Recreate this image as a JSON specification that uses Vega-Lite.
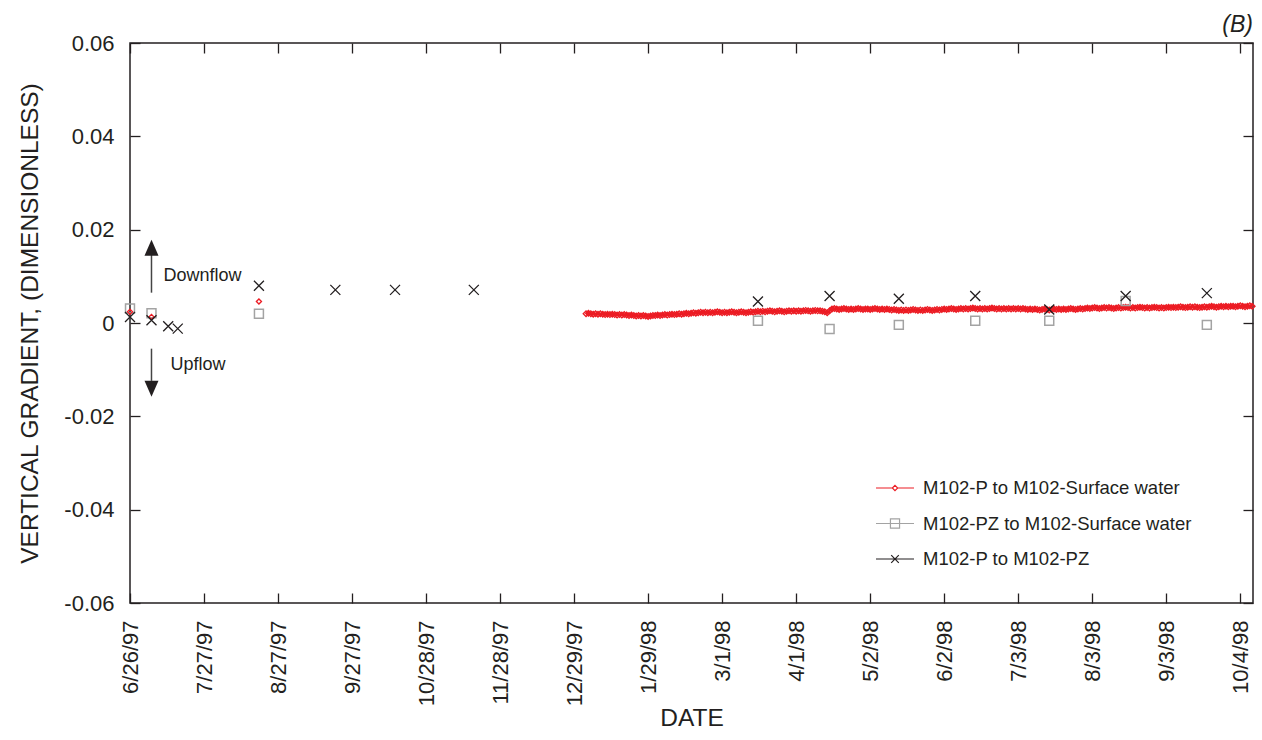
{
  "$schema": "https://vega.github.io/schema/vega-lite/v6.json",
  "width": 1123,
  "height": 560,
  "autosize": {"type": "none"},
  "padding": {"left": 130, "top": 43, "right": 9, "bottom": 137},
  "background": "white",
  "title": {"text": "(B)", "anchor": "end", "frame": "group", "fontStyle": "italic", "fontWeight": "normal", "fontSize": 23, "offset": -5, "color": "#231f20", "font": "Liberation Sans"},
  "config": {
    "font": "Liberation Sans",
    "view": {"stroke": "#231f20", "strokeWidth": 1.5},
    "axis": {"domain": false, "grid": false, "labelFont": "Liberation Sans", "labelFontSize": 22, "labelColor": "#231f20", "tickColor": "#231f20", "tickWidth": 1.3, "tickSize": -10, "titleFont": "Liberation Sans", "titleFontSize": 24.5, "titleFontWeight": "normal", "titleColor": "#231f20"}
  },
  "datasets": {
    "pts": [
      {"d": "1997/06/26", "s": "P-SW", "v": 0.0024},
      {"d": "1997/07/05", "s": "P-SW", "v": 0.0013},
      {"d": "1997/08/19", "s": "P-SW", "v": 0.0046},
      {"d": "1997/06/26", "s": "PZ-SW", "v": 0.0031},
      {"d": "1997/07/05", "s": "PZ-SW", "v": 0.0021},
      {"d": "1997/08/19", "s": "PZ-SW", "v": 0.0020},
      {"d": "1998/03/16", "s": "PZ-SW", "v": 0.0005},
      {"d": "1998/04/15", "s": "PZ-SW", "v": -0.0013},
      {"d": "1998/05/14", "s": "PZ-SW", "v": -0.0004},
      {"d": "1998/06/15", "s": "PZ-SW", "v": 0.0005},
      {"d": "1998/07/16", "s": "PZ-SW", "v": 0.0005},
      {"d": "1998/08/17", "s": "PZ-SW", "v": 0.0047},
      {"d": "1998/09/20", "s": "PZ-SW", "v": -0.0004},
      {"d": "1997/06/26", "s": "P-PZ", "v": 0.0013},
      {"d": "1997/07/05", "s": "P-PZ", "v": 0.0006},
      {"d": "1997/07/12", "s": "P-PZ", "v": -0.0007},
      {"d": "1997/07/16", "s": "P-PZ", "v": -0.0012},
      {"d": "1997/08/19", "s": "P-PZ", "v": 0.0080},
      {"d": "1997/09/20", "s": "P-PZ", "v": 0.0071},
      {"d": "1997/10/15", "s": "P-PZ", "v": 0.0071},
      {"d": "1997/11/17", "s": "P-PZ", "v": 0.0071},
      {"d": "1998/03/16", "s": "P-PZ", "v": 0.0046},
      {"d": "1998/04/15", "s": "P-PZ", "v": 0.0058},
      {"d": "1998/05/14", "s": "P-PZ", "v": 0.0052},
      {"d": "1998/06/15", "s": "P-PZ", "v": 0.0058},
      {"d": "1998/07/16", "s": "P-PZ", "v": 0.0029},
      {"d": "1998/08/17", "s": "P-PZ", "v": 0.0058},
      {"d": "1998/09/20", "s": "P-PZ", "v": 0.0064}
    ],
    "red": [
      {"d":"1998/01/03","v":0.0020},{"d":"1998/01/04","v":0.0021},{"d":"1998/01/05","v":0.0020},{"d":"1998/01/06","v":0.0019},{"d":"1998/01/07","v":0.0020},{"d":"1998/01/08","v":0.0019},{"d":"1998/01/09","v":0.0020},{"d":"1998/01/10","v":0.0019},{"d":"1998/01/11","v":0.0018},{"d":"1998/01/12","v":0.0019},{"d":"1998/01/13","v":0.0018},{"d":"1998/01/14","v":0.0019},{"d":"1998/01/15","v":0.0018},{"d":"1998/01/16","v":0.0017},{"d":"1998/01/17","v":0.0018},{"d":"1998/01/18","v":0.0017},{"d":"1998/01/19","v":0.0018},{"d":"1998/01/20","v":0.0017},{"d":"1998/01/21","v":0.0016},{"d":"1998/01/22","v":0.0017},{"d":"1998/01/23","v":0.0016},{"d":"1998/01/24","v":0.0015},{"d":"1998/01/25","v":0.0016},{"d":"1998/01/26","v":0.0015},{"d":"1998/01/27","v":0.0016},{"d":"1998/01/28","v":0.0015},{"d":"1998/01/29","v":0.0014},{"d":"1998/01/30","v":0.0015},{"d":"1998/01/31","v":0.0016},
      {"d":"1998/02/01","v":0.0016},{"d":"1998/02/02","v":0.0017},{"d":"1998/02/03","v":0.0016},{"d":"1998/02/04","v":0.0017},{"d":"1998/02/05","v":0.0018},{"d":"1998/02/06","v":0.0017},{"d":"1998/02/07","v":0.0018},{"d":"1998/02/08","v":0.0019},{"d":"1998/02/09","v":0.0018},{"d":"1998/02/10","v":0.0019},{"d":"1998/02/11","v":0.0020},{"d":"1998/02/12","v":0.0019},{"d":"1998/02/13","v":0.0020},{"d":"1998/02/14","v":0.0021},{"d":"1998/02/15","v":0.0020},{"d":"1998/02/16","v":0.0021},{"d":"1998/02/17","v":0.0022},{"d":"1998/02/18","v":0.0021},{"d":"1998/02/19","v":0.0022},{"d":"1998/02/20","v":0.0023},{"d":"1998/02/21","v":0.0022},{"d":"1998/02/22","v":0.0023},{"d":"1998/02/23","v":0.0022},{"d":"1998/02/24","v":0.0023},{"d":"1998/02/25","v":0.0022},{"d":"1998/02/26","v":0.0023},{"d":"1998/02/27","v":0.0024},{"d":"1998/02/28","v":0.0023},
      {"d":"1998/03/01","v":0.0022},{"d":"1998/03/02","v":0.0023},{"d":"1998/03/03","v":0.0022},{"d":"1998/03/04","v":0.0023},{"d":"1998/03/05","v":0.0024},{"d":"1998/03/06","v":0.0023},{"d":"1998/03/07","v":0.0022},{"d":"1998/03/08","v":0.0023},{"d":"1998/03/09","v":0.0024},{"d":"1998/03/10","v":0.0023},{"d":"1998/03/11","v":0.0022},{"d":"1998/03/12","v":0.0023},{"d":"1998/03/13","v":0.0024},{"d":"1998/03/14","v":0.0023},{"d":"1998/03/15","v":0.0024},{"d":"1998/03/16","v":0.0025},{"d":"1998/03/17","v":0.0024},{"d":"1998/03/18","v":0.0025},{"d":"1998/03/19","v":0.0024},{"d":"1998/03/20","v":0.0025},{"d":"1998/03/21","v":0.0026},{"d":"1998/03/22","v":0.0025},{"d":"1998/03/23","v":0.0024},{"d":"1998/03/24","v":0.0025},{"d":"1998/03/25","v":0.0026},{"d":"1998/03/26","v":0.0025},{"d":"1998/03/27","v":0.0024},{"d":"1998/03/28","v":0.0025},{"d":"1998/03/29","v":0.0026},{"d":"1998/03/30","v":0.0025},{"d":"1998/03/31","v":0.0026},
      {"d":"1998/04/01","v":0.0025},{"d":"1998/04/02","v":0.0026},{"d":"1998/04/03","v":0.0025},{"d":"1998/04/04","v":0.0026},{"d":"1998/04/05","v":0.0027},{"d":"1998/04/06","v":0.0026},{"d":"1998/04/07","v":0.0025},{"d":"1998/04/08","v":0.0026},{"d":"1998/04/09","v":0.0027},{"d":"1998/04/10","v":0.0026},{"d":"1998/04/11","v":0.0026},{"d":"1998/04/12","v":0.0025},{"d":"1998/04/13","v":0.0024},{"d":"1998/04/14","v":0.0022},{"d":"1998/04/15","v":0.0026},{"d":"1998/04/16","v":0.0030},{"d":"1998/04/17","v":0.0031},{"d":"1998/04/18","v":0.0030},{"d":"1998/04/19","v":0.0029},{"d":"1998/04/20","v":0.0030},{"d":"1998/04/21","v":0.0031},{"d":"1998/04/22","v":0.0030},{"d":"1998/04/23","v":0.0029},{"d":"1998/04/24","v":0.0030},{"d":"1998/04/25","v":0.0029},{"d":"1998/04/26","v":0.0030},{"d":"1998/04/27","v":0.0031},{"d":"1998/04/28","v":0.0030},{"d":"1998/04/29","v":0.0029},{"d":"1998/04/30","v":0.0030},
      {"d":"1998/05/01","v":0.0030},{"d":"1998/05/02","v":0.0029},{"d":"1998/05/03","v":0.0030},{"d":"1998/05/04","v":0.0031},{"d":"1998/05/05","v":0.0030},{"d":"1998/05/06","v":0.0029},{"d":"1998/05/07","v":0.0030},{"d":"1998/05/08","v":0.0029},{"d":"1998/05/09","v":0.0030},{"d":"1998/05/10","v":0.0029},{"d":"1998/05/11","v":0.0028},{"d":"1998/05/12","v":0.0029},{"d":"1998/05/13","v":0.0028},{"d":"1998/05/14","v":0.0027},{"d":"1998/05/15","v":0.0028},{"d":"1998/05/16","v":0.0027},{"d":"1998/05/17","v":0.0028},{"d":"1998/05/18","v":0.0027},{"d":"1998/05/19","v":0.0028},{"d":"1998/05/20","v":0.0029},{"d":"1998/05/21","v":0.0028},{"d":"1998/05/22","v":0.0027},{"d":"1998/05/23","v":0.0028},{"d":"1998/05/24","v":0.0027},{"d":"1998/05/25","v":0.0028},{"d":"1998/05/26","v":0.0029},{"d":"1998/05/27","v":0.0028},{"d":"1998/05/28","v":0.0027},{"d":"1998/05/29","v":0.0028},{"d":"1998/05/30","v":0.0029},{"d":"1998/05/31","v":0.0028},
      {"d":"1998/06/01","v":0.0029},{"d":"1998/06/02","v":0.0030},{"d":"1998/06/03","v":0.0029},{"d":"1998/06/04","v":0.0030},{"d":"1998/06/05","v":0.0031},{"d":"1998/06/06","v":0.0030},{"d":"1998/06/07","v":0.0029},{"d":"1998/06/08","v":0.0030},{"d":"1998/06/09","v":0.0031},{"d":"1998/06/10","v":0.0030},{"d":"1998/06/11","v":0.0031},{"d":"1998/06/12","v":0.0030},{"d":"1998/06/13","v":0.0031},{"d":"1998/06/14","v":0.0032},{"d":"1998/06/15","v":0.0031},{"d":"1998/06/16","v":0.0030},{"d":"1998/06/17","v":0.0031},{"d":"1998/06/18","v":0.0030},{"d":"1998/06/19","v":0.0031},{"d":"1998/06/20","v":0.0030},{"d":"1998/06/21","v":0.0031},{"d":"1998/06/22","v":0.0032},{"d":"1998/06/23","v":0.0031},{"d":"1998/06/24","v":0.0030},{"d":"1998/06/25","v":0.0031},{"d":"1998/06/26","v":0.0030},{"d":"1998/06/27","v":0.0031},{"d":"1998/06/28","v":0.0030},{"d":"1998/06/29","v":0.0031},{"d":"1998/06/30","v":0.0030},
      {"d":"1998/07/01","v":0.0031},{"d":"1998/07/02","v":0.0030},{"d":"1998/07/03","v":0.0031},{"d":"1998/07/04","v":0.0030},{"d":"1998/07/05","v":0.0031},{"d":"1998/07/06","v":0.0030},{"d":"1998/07/07","v":0.0029},{"d":"1998/07/08","v":0.0030},{"d":"1998/07/09","v":0.0029},{"d":"1998/07/10","v":0.0030},{"d":"1998/07/11","v":0.0029},{"d":"1998/07/12","v":0.0028},{"d":"1998/07/13","v":0.0029},{"d":"1998/07/14","v":0.0030},{"d":"1998/07/15","v":0.0029},{"d":"1998/07/16","v":0.0028},{"d":"1998/07/17","v":0.0029},{"d":"1998/07/18","v":0.0030},{"d":"1998/07/19","v":0.0029},{"d":"1998/07/20","v":0.0030},{"d":"1998/07/21","v":0.0029},{"d":"1998/07/22","v":0.0030},{"d":"1998/07/23","v":0.0029},{"d":"1998/07/24","v":0.0030},{"d":"1998/07/25","v":0.0031},{"d":"1998/07/26","v":0.0030},{"d":"1998/07/27","v":0.0029},{"d":"1998/07/28","v":0.0030},{"d":"1998/07/29","v":0.0031},{"d":"1998/07/30","v":0.0030},{"d":"1998/07/31","v":0.0031},
      {"d":"1998/08/01","v":0.0032},{"d":"1998/08/02","v":0.0031},{"d":"1998/08/03","v":0.0032},{"d":"1998/08/04","v":0.0033},{"d":"1998/08/05","v":0.0032},{"d":"1998/08/06","v":0.0031},{"d":"1998/08/07","v":0.0032},{"d":"1998/08/08","v":0.0033},{"d":"1998/08/09","v":0.0032},{"d":"1998/08/10","v":0.0033},{"d":"1998/08/11","v":0.0032},{"d":"1998/08/12","v":0.0031},{"d":"1998/08/13","v":0.0032},{"d":"1998/08/14","v":0.0033},{"d":"1998/08/15","v":0.0032},{"d":"1998/08/16","v":0.0033},{"d":"1998/08/17","v":0.0034},{"d":"1998/08/18","v":0.0033},{"d":"1998/08/19","v":0.0032},{"d":"1998/08/20","v":0.0033},{"d":"1998/08/21","v":0.0032},{"d":"1998/08/22","v":0.0033},{"d":"1998/08/23","v":0.0034},{"d":"1998/08/24","v":0.0033},{"d":"1998/08/25","v":0.0032},{"d":"1998/08/26","v":0.0033},{"d":"1998/08/27","v":0.0032},{"d":"1998/08/28","v":0.0033},{"d":"1998/08/29","v":0.0034},{"d":"1998/08/30","v":0.0033},{"d":"1998/08/31","v":0.0032},
      {"d":"1998/09/01","v":0.0033},{"d":"1998/09/02","v":0.0032},{"d":"1998/09/03","v":0.0033},{"d":"1998/09/04","v":0.0034},{"d":"1998/09/05","v":0.0033},{"d":"1998/09/06","v":0.0034},{"d":"1998/09/07","v":0.0033},{"d":"1998/09/08","v":0.0034},{"d":"1998/09/09","v":0.0035},{"d":"1998/09/10","v":0.0034},{"d":"1998/09/11","v":0.0033},{"d":"1998/09/12","v":0.0034},{"d":"1998/09/13","v":0.0035},{"d":"1998/09/14","v":0.0034},{"d":"1998/09/15","v":0.0035},{"d":"1998/09/16","v":0.0034},{"d":"1998/09/17","v":0.0033},{"d":"1998/09/18","v":0.0034},{"d":"1998/09/19","v":0.0035},{"d":"1998/09/20","v":0.0034},{"d":"1998/09/21","v":0.0035},{"d":"1998/09/22","v":0.0036},{"d":"1998/09/23","v":0.0035},{"d":"1998/09/24","v":0.0034},{"d":"1998/09/25","v":0.0035},{"d":"1998/09/26","v":0.0036},{"d":"1998/09/27","v":0.0035},{"d":"1998/09/28","v":0.0036},{"d":"1998/09/29","v":0.0035},{"d":"1998/09/30","v":0.0036},
      {"d":"1998/10/01","v":0.0036},{"d":"1998/10/02","v":0.0035},{"d":"1998/10/03","v":0.0036},{"d":"1998/10/04","v":0.0037},{"d":"1998/10/05","v":0.0036},{"d":"1998/10/06","v":0.0035},{"d":"1998/10/07","v":0.0036},{"d":"1998/10/08","v":0.0037},{"d":"1998/10/09","v":0.0036}
    ],
    "shafts": [
      {"d": "1997/07/05", "v1": 0.0065, "v2": 0.0146},
      {"d": "1997/07/05", "v1": -0.0055, "v2": -0.0124}
    ],
    "heads": [
      {"d": "1997/07/05", "v": 0.0161, "dir": "up"},
      {"d": "1997/07/05", "v": -0.0141, "dir": "down"}
    ],
    "notes": [
      {"d": "1997/07/10", "v": 0.0100, "t": "Downflow"},
      {"d": "1997/07/13", "v": -0.0089, "t": "Upflow"}
    ]
  },
  "resolve": {"axis": {"x": "independent", "y": "independent"}},
  "layer": [
    {
      "mark": {"type": "rule", "color": "#231f20", "strokeWidth": 1.5},
      "encoding": {"y": {"datum": 0, "type": "quantitative", "axis": null}}
    },
    {
      "data": {"name": "shafts"},
      "mark": {"type": "rule", "color": "#444444", "strokeWidth": 1.5},
      "encoding": {
        "x": {"field": "d", "type": "temporal", "axis": null},
        "y": {"field": "v1", "type": "quantitative", "axis": null},
        "y2": {"field": "v2"}
      }
    },
    {
      "data": {"name": "heads"},
      "transform": [{"filter": "datum.dir == 'up'"}],
      "mark": {"type": "point", "shape": "M0,-1L0.875,1L-0.875,1Z", "filled": true, "size": 256, "color": "#231f20", "opacity": 1},
      "encoding": {
        "x": {"field": "d", "type": "temporal", "axis": null},
        "y": {"field": "v", "type": "quantitative", "axis": null}
      }
    },
    {
      "data": {"name": "heads"},
      "transform": [{"filter": "datum.dir == 'down'"}],
      "mark": {"type": "point", "shape": "M0,1L0.875,-1L-0.875,-1Z", "filled": true, "size": 256, "color": "#231f20", "opacity": 1},
      "encoding": {
        "x": {"field": "d", "type": "temporal", "axis": null},
        "y": {"field": "v", "type": "quantitative", "axis": null}
      }
    },
    {
      "data": {"name": "notes"},
      "mark": {"type": "text", "align": "left", "baseline": "middle", "fontSize": 18, "color": "#231f20", "font": "Liberation Sans"},
      "encoding": {
        "x": {"field": "d", "type": "temporal", "axis": null},
        "y": {"field": "v", "type": "quantitative", "axis": null},
        "text": {"field": "t"}
      }
    },
    {
      "data": {"name": "red"},
      "mark": {"type": "line", "color": "#ec1c24", "strokeWidth": 2.5},
      "encoding": {
        "x": {"field": "d", "type": "temporal", "axis": null},
        "y": {"field": "v", "type": "quantitative", "axis": null}
      }
    },
    {
      "data": {"name": "red"},
      "mark": {"type": "point", "shape": "diamond", "filled": false, "size": 32, "strokeWidth": 1.3, "color": "#ec1c24", "opacity": 1},
      "encoding": {
        "x": {"field": "d", "type": "temporal", "axis": null},
        "y": {"field": "v", "type": "quantitative", "axis": null}
      }
    },
    {
      "data": {"name": "pts"},
      "transform": [{"filter": "datum.s == 'PZ-SW'"}],
      "mark": {"type": "point", "shape": "square", "filled": false, "size": 80, "strokeWidth": 1.5, "color": "#a3a3a3", "opacity": 1},
      "encoding": {
        "x": {"field": "d", "type": "temporal",
          "scale": {"domain": [{"year": 1997, "month": 6, "date": 26}, {"year": 1998, "month": 10, "date": 9, "hours": 8}]},
          "axis": {"orient": "top", "labels": false, "title": null,
            "values": [{"year":1997,"month":6,"date":26},{"year":1997,"month":7,"date":27},{"year":1997,"month":8,"date":27},{"year":1997,"month":9,"date":27},{"year":1997,"month":10,"date":28},{"year":1997,"month":11,"date":28},{"year":1997,"month":12,"date":29},{"year":1998,"month":1,"date":29},{"year":1998,"month":3,"date":1},{"year":1998,"month":4,"date":1},{"year":1998,"month":5,"date":2},{"year":1998,"month":6,"date":2},{"year":1998,"month":7,"date":3},{"year":1998,"month":8,"date":3},{"year":1998,"month":9,"date":3},{"year":1998,"month":10,"date":4}]}},
        "y": {"field": "v", "type": "quantitative",
          "scale": {"domain": [-0.06, 0.06], "nice": false, "zero": false},
          "axis": {"orient": "right", "labels": false, "title": null, "values": [-0.06, -0.04, -0.02, 0, 0.02, 0.04, 0.06]}}
      }
    },
    {
      "data": {"name": "pts"},
      "transform": [{"filter": "datum.s == 'P-SW'"}],
      "mark": {"type": "point", "shape": "diamond", "filled": false, "size": 26, "strokeWidth": 1.3, "color": "#ec1c24", "opacity": 1},
      "encoding": {
        "x": {"field": "d", "type": "temporal", "axis": null},
        "y": {"field": "v", "type": "quantitative", "axis": null}
      }
    },
    {
      "data": {"name": "pts"},
      "transform": [{"filter": "datum.s == 'P-PZ'"}],
      "mark": {"type": "point", "shape": "M-1,-1L1,1M-1,1L1,-1", "filled": false, "size": 100, "strokeWidth": 1.3, "color": "#231f20", "opacity": 1},
      "encoding": {
        "x": {"field": "d", "type": "temporal",
          "scale": {"domain": [{"year": 1997, "month": 6, "date": 26}, {"year": 1998, "month": 10, "date": 9, "hours": 8}]},
          "axis": {"orient": "bottom", "title": "DATE", "labelAngle": -90, "labelPadding": 27, "titlePadding": 1,
            "labelExpr": "timeFormat(datum.value, '%-m/%-d/%y')",
            "values": [{"year":1997,"month":6,"date":26},{"year":1997,"month":7,"date":27},{"year":1997,"month":8,"date":27},{"year":1997,"month":9,"date":27},{"year":1997,"month":10,"date":28},{"year":1997,"month":11,"date":28},{"year":1997,"month":12,"date":29},{"year":1998,"month":1,"date":29},{"year":1998,"month":3,"date":1},{"year":1998,"month":4,"date":1},{"year":1998,"month":5,"date":2},{"year":1998,"month":6,"date":2},{"year":1998,"month":7,"date":3},{"year":1998,"month":8,"date":3},{"year":1998,"month":9,"date":3},{"year":1998,"month":10,"date":4}]}},
        "y": {"field": "v", "type": "quantitative",
          "scale": {"domain": [-0.06, 0.06], "nice": false, "zero": false},
          "axis": {"orient": "left", "title": "VERTICAL GRADIENT, (DIMENSIONLESS)", "labelPadding": 26, "titlePadding": 21,
            "labelExpr": "datum.value == 0 ? '0' : (datum.value < 0 ? '-' : '') + format(abs(datum.value), '.2f')",
            "values": [-0.06, -0.04, -0.02, 0, 0.02, 0.04, 0.06]}}
      }
    },
    {
      "data": {"name": "pts"},
      "transform": [{"filter": "false"}],
      "mark": {"type": "point", "filled": false, "strokeWidth": 1.2, "opacity": 1},
      "encoding": {
        "x": {"field": "d", "type": "temporal", "axis": null},
        "y": {"field": "v", "type": "quantitative", "axis": null},
        "color": {"field": "s", "type": "nominal",
          "scale": {"domain": ["M102-P to M102-Surface water", "M102-PZ to M102-Surface water", "M102-P to M102-PZ"], "range": ["#ec1c24", "#a3a3a3", "#231f20"]},
          "legend": {"title": null, "orient": "none", "legendX": 745, "legendY": 425, "padding": 0, "symbolSize": 1444, "symbolStrokeWidth": 1.2, "symbolOpacity": 1, "labelFontSize": 18.5, "labelFont": "Liberation Sans", "labelColor": "#231f20", "labelOffset": 8, "labelLimit": 500, "rowPadding": 5.5}},
        "shape": {"field": "s", "type": "nominal",
          "scale": {"domain": ["M102-P to M102-Surface water", "M102-PZ to M102-Surface water", "M102-P to M102-PZ"], "range": ["M-1,0H-0.14M0.14,0H1M0,-0.14L0.14,0L0,0.14L-0.14,0Z", "M-1,0H1M-0.24,-0.24H0.24V0.24H-0.24Z", "M-1,0H1M-0.2,-0.2L0.2,0.2M-0.2,0.2L0.2,-0.2"]},
          "legend": {"title": null, "orient": "none", "legendX": 745, "legendY": 425, "padding": 0, "symbolSize": 1444, "symbolStrokeWidth": 1.2, "symbolOpacity": 1, "labelFontSize": 18.5, "labelFont": "Liberation Sans", "labelColor": "#231f20", "labelOffset": 8, "labelLimit": 500, "rowPadding": 5.5}}
      }
    }
  ]
}
